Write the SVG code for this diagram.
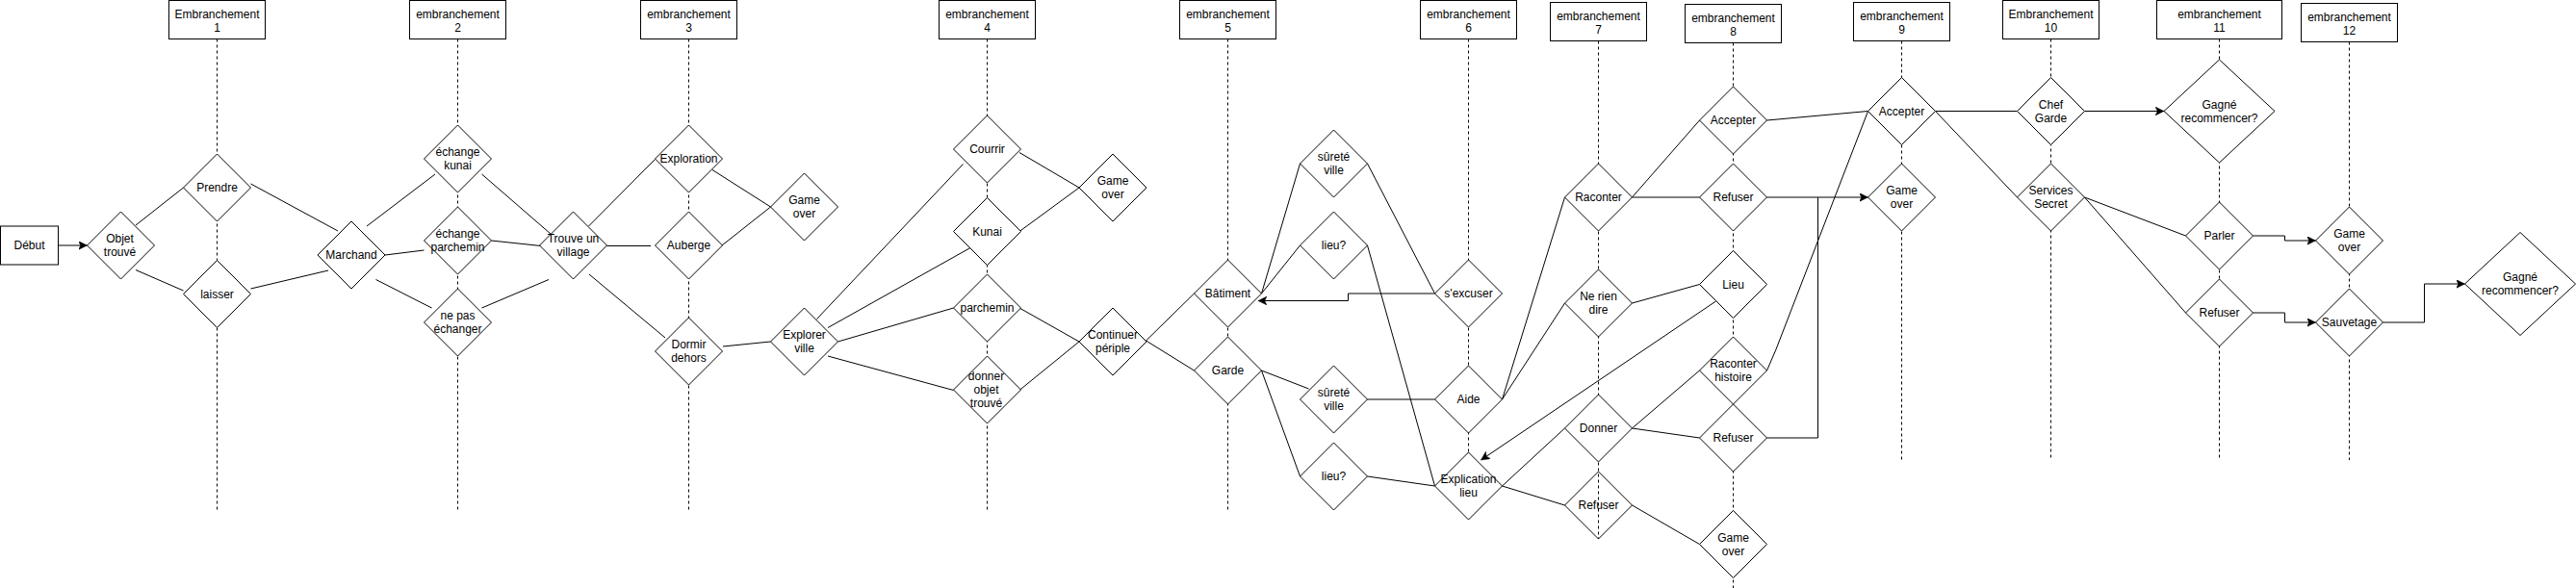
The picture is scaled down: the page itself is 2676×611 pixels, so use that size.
<svg xmlns="http://www.w3.org/2000/svg" xmlns:xlink="http://www.w3.org/1999/xlink" width="2676" height="611" viewBox="0 0 2676 611">
<style>
.box{fill:#fff;stroke:#000;stroke-width:1}
.dia{fill:#fff;stroke:#000;stroke-width:1}
.hollow{fill:none;stroke:#000;stroke-width:1}
.ln{fill:none;stroke:#000;stroke-width:1}
.ar{fill:none;stroke:#000;stroke-width:1;marker-end:url(#arrow)}
.dash{fill:none;stroke:#000;stroke-width:1;stroke-dasharray:3 3}
text{font-family:"Liberation Sans",Arial,Helvetica,sans-serif;font-size:12px;fill:#000;text-anchor:middle}
</style>
<defs>
<path id="d" d="M0,-35 L35,0 L0,35 L-35,0 Z"/>
<marker id="arrow" viewBox="0 0 10 10" refX="10" refY="5" markerWidth="9" markerHeight="9" markerUnits="userSpaceOnUse" orient="auto">
<path d="M0,0 L10,5 L0,10 L2.5,5 Z" fill="#000" stroke="#000" stroke-width="0.5"/>
</marker>
</defs>
<rect width="2676" height="611" fill="#fff"/>

<g id="lifelines">
<line class="dash" x1="225.5" y1="40.5" x2="225.5" y2="530"/>
<line class="dash" x1="475.5" y1="40.5" x2="475.5" y2="530"/>
<line class="dash" x1="715.5" y1="40.5" x2="715.5" y2="530"/>
<line class="dash" x1="1025.5" y1="40.5" x2="1025.5" y2="530"/>
<line class="dash" x1="1275.5" y1="40.5" x2="1275.5" y2="530"/>
<line class="dash" x1="1525.5" y1="40.5" x2="1525.5" y2="505"/>
<line class="dash" x1="1660.5" y1="42.5" x2="1660.5" y2="560"/>
<line class="dash" x1="1800.5" y1="44.5" x2="1800.5" y2="611"/>
<line class="dash" x1="1975.5" y1="42.5" x2="1975.5" y2="480"/>
<line class="dash" x1="2130.5" y1="40.5" x2="2130.5" y2="478"/>
<line class="dash" x1="2305.5" y1="40.5" x2="2305.5" y2="478"/>
<line class="dash" x1="2440.5" y1="43.5" x2="2440.5" y2="478"/>
</g>

<g id="connectors">
<line class="ar" x1="60.5" y1="255" x2="90.5" y2="255"/>
<line class="ln" x1="141" y1="234" x2="190.5" y2="195"/>
<line class="ln" x1="141" y1="280.5" x2="190.5" y2="302"/>
<line class="ln" x1="260.5" y1="191" x2="351" y2="240"/>
<line class="ln" x1="260.5" y1="300" x2="341" y2="281"/>
<line class="ln" x1="381" y1="235" x2="452" y2="181"/>
<line class="ln" x1="400" y1="265" x2="440.5" y2="260"/>
<line class="ln" x1="390.5" y1="290.5" x2="448.5" y2="320"/>
<line class="ln" x1="500.5" y1="181" x2="572" y2="243"/>
<line class="ln" x1="510.5" y1="250" x2="562" y2="255.5"/>
<line class="ln" x1="500.5" y1="320" x2="570" y2="290.5"/>
<line class="ln" x1="611.5" y1="235" x2="680.5" y2="165.5"/>
<line class="ln" x1="630.5" y1="255.5" x2="676" y2="255.5"/>
<line class="ln" x1="612" y1="285" x2="691" y2="351"/>
<line class="ln" x1="740" y1="176.5" x2="800.5" y2="215"/>
<line class="ln" x1="750" y1="255" x2="800.5" y2="215"/>
<line class="ln" x1="751" y1="360" x2="800.5" y2="355"/>
<line class="ln" x1="848.5" y1="331.5" x2="1000.5" y2="170.5"/>
<line class="ln" x1="860" y1="340.5" x2="1008" y2="257.5"/>
<line class="ln" x1="870.5" y1="355" x2="990.5" y2="320"/>
<line class="ln" x1="860" y1="370" x2="990.5" y2="405.5"/>
<line class="ln" x1="1059" y1="158.5" x2="1121" y2="195"/>
<line class="ln" x1="1059" y1="240.5" x2="1121" y2="195"/>
<line class="ln" x1="1059" y1="320" x2="1121" y2="355"/>
<line class="ln" x1="1059" y1="405.5" x2="1121" y2="355"/>
<line class="ln" x1="1190.5" y1="354" x2="1240.5" y2="305"/>
<line class="ln" x1="1190.5" y1="354" x2="1240.5" y2="385"/>
<line class="ln" x1="1310.5" y1="305" x2="1350.5" y2="170"/>
<line class="ln" x1="1310.5" y1="305" x2="1350.5" y2="255"/>
<line class="ln" x1="1420.5" y1="170" x2="1490.5" y2="305"/>
<line class="ln" x1="1420.5" y1="255" x2="1490.5" y2="505"/>
<polyline class="ar" points="1490.5,305 1400.5,305 1400.5,312.5 1307,312.5"/>
<line class="ln" x1="1310.5" y1="385" x2="1359.5" y2="404"/>
<line class="ln" x1="1310.5" y1="385" x2="1350.5" y2="495"/>
<line class="ln" x1="1420.5" y1="415" x2="1490.5" y2="415"/>
<line class="ln" x1="1420.5" y1="495" x2="1490.5" y2="505"/>
<line class="ln" x1="1560.5" y1="415" x2="1625.5" y2="205"/>
<line class="ln" x1="1560.5" y1="415" x2="1625.5" y2="315"/>
<line class="ar" x1="1782.5" y1="313" x2="1538.5" y2="478"/>
<line class="ln" x1="1560.5" y1="505" x2="1625.5" y2="445"/>
<line class="ln" x1="1560.5" y1="505" x2="1625.5" y2="525"/>
<line class="ln" x1="1695.5" y1="205" x2="1765.5" y2="125"/>
<line class="ln" x1="1695.5" y1="205" x2="1765.5" y2="205"/>
<line class="ln" x1="1695.5" y1="315" x2="1765.5" y2="295.5"/>
<line class="ln" x1="1695.5" y1="445" x2="1765.5" y2="385"/>
<line class="ln" x1="1695.5" y1="445" x2="1765.5" y2="455"/>
<line class="ln" x1="1695.5" y1="525" x2="1765.5" y2="565.5"/>
<line class="ln" x1="1835.5" y1="125" x2="1940.5" y2="115.5"/>
<line class="ar" x1="1835.5" y1="205" x2="1940.5" y2="205"/>
<polyline class="ln" points="1835.5,455 1888.5,455 1888.5,205"/>
<polyline class="ln" points="1835.5,385 1845,363 1940.5,115.5"/>
<line class="ln" x1="2010.5" y1="115.5" x2="2095.5" y2="115.5"/>
<line class="ln" x1="2010.5" y1="115.5" x2="2095.5" y2="205"/>
<line class="ar" x1="2165.5" y1="115.5" x2="2248" y2="115.5"/>
<line class="ln" x1="2165.5" y1="205" x2="2270.5" y2="245"/>
<line class="ln" x1="2165.5" y1="205" x2="2270.5" y2="325"/>
<polyline class="ar" points="2340.5,245 2373.5,245 2373.5,250 2405.5,250"/>
<polyline class="ar" points="2340.5,325 2373.5,325 2373.5,335 2405.5,335"/>
<polyline class="ar" points="2475.5,335 2518.5,335 2518.5,295 2560.5,295"/>
</g>

<g id="headers">
<g id="emb1"><rect class="box" x="175.5" y="0.5" width="100" height="40"/><text x="225.5" y="18.5">Embranchement<tspan x="225.5" dy="14">1</tspan></text></g>
<g id="emb2"><rect class="box" x="425.5" y="0.5" width="100" height="40"/><text x="475.5" y="18.5">embranchement<tspan x="475.5" dy="14">2</tspan></text></g>
<g id="emb3"><rect class="box" x="665.5" y="0.5" width="100" height="40"/><text x="715.5" y="18.5">embranchement<tspan x="715.5" dy="14">3</tspan></text></g>
<g id="emb4"><rect class="box" x="975.5" y="0.5" width="100" height="40"/><text x="1025.5" y="18.5">embranchement<tspan x="1025.5" dy="14">4</tspan></text></g>
<g id="emb5"><rect class="box" x="1225.5" y="0.5" width="100" height="40"/><text x="1275.5" y="18.5">embranchement<tspan x="1275.5" dy="14">5</tspan></text></g>
<g id="emb6"><rect class="box" x="1475.5" y="0.5" width="100" height="40"/><text x="1525.5" y="18.5">embranchement<tspan x="1525.5" dy="14">6</tspan></text></g>
<g id="emb7"><rect class="box" x="1610.5" y="2.5" width="100" height="40"/><text x="1660.5" y="20.5">embranchement<tspan x="1660.5" dy="14">7</tspan></text></g>
<g id="emb8"><rect class="box" x="1750.5" y="4.5" width="100" height="40"/><text x="1800.5" y="22.5">embranchement<tspan x="1800.5" dy="14">8</tspan></text></g>
<g id="emb9"><rect class="box" x="1925.5" y="2.5" width="100" height="40"/><text x="1975.5" y="20.5">embranchement<tspan x="1975.5" dy="14">9</tspan></text></g>
<g id="emb10"><rect class="box" x="2080.5" y="0.5" width="100" height="40"/><text x="2130.5" y="18.5">Embranchement<tspan x="2130.5" dy="14">10</tspan></text></g>
<g id="emb11"><rect class="box" x="2240.5" y="0.5" width="130" height="40"/><text x="2305.5" y="18.5">embranchement<tspan x="2305.5" dy="14">11</tspan></text></g>
<g id="emb12"><rect class="box" x="2390.5" y="3.5" width="100" height="40"/><text x="2440.5" y="21.5">embranchement<tspan x="2440.5" dy="14">12</tspan></text></g>
</g>

<g id="nodes">
<g id="debut"><rect class="box" x="0.5" y="235" width="60" height="40"/><text x="30.5" y="259">Début</text></g>
<g id="objet-trouve"><use xlink:href="#d" href="#d" class="dia" x="125.5" y="255"/><text x="124.5" y="252">Objet<tspan x="124.5" dy="14">trouvé</tspan></text></g>
<g id="prendre"><use xlink:href="#d" href="#d" class="dia" x="225.5" y="195"/><text x="225.5" y="199">Prendre</text></g>
<g id="laisser"><use xlink:href="#d" href="#d" class="dia" x="225.5" y="305.5"/><text x="225.5" y="309.5">laisser</text></g>
<g id="marchand"><use xlink:href="#d" href="#d" class="dia" x="365" y="265"/><text x="365" y="269">Marchand</text></g>
<g id="echange-kunai"><use xlink:href="#d" href="#d" class="dia" x="475.5" y="165"/><text x="475.5" y="162">échange<tspan x="475.5" dy="14">kunai</tspan></text></g>
<g id="echange-parchemin"><use xlink:href="#d" href="#d" class="dia" x="475.5" y="250"/><text x="475.5" y="247">échange<tspan x="475.5" dy="14">parchemin</tspan></text></g>
<g id="ne-pas-echanger"><use xlink:href="#d" href="#d" class="dia" x="475.5" y="335"/><text x="475.5" y="332">ne pas<tspan x="475.5" dy="14">échanger</tspan></text></g>
<g id="trouve-village"><use xlink:href="#d" href="#d" class="dia" x="595.5" y="255"/><text x="595.5" y="252">Trouve un<tspan x="595.5" dy="14">village</tspan></text></g>
<g id="exploration"><use xlink:href="#d" href="#d" class="dia" x="715.5" y="165"/><text x="715.5" y="169">Exploration</text></g>
<g id="auberge"><use xlink:href="#d" href="#d" class="dia" x="715.5" y="255"/><text x="715.5" y="259">Auberge</text></g>
<g id="dormir-dehors"><use xlink:href="#d" href="#d" class="dia" x="715.5" y="365"/><text x="715.5" y="362">Dormir<tspan x="715.5" dy="14">dehors</tspan></text></g>
<g id="game-over-3"><use xlink:href="#d" href="#d" class="dia" x="835.5" y="215"/><text x="835.5" y="212">Game<tspan x="835.5" dy="14">over</tspan></text></g>
<g id="explorer-ville"><use xlink:href="#d" href="#d" class="dia" x="835.5" y="355"/><text x="835.5" y="352">Explorer<tspan x="835.5" dy="14">ville</tspan></text></g>
<g id="courrir"><use xlink:href="#d" href="#d" class="dia" x="1025.5" y="155"/><text x="1025.5" y="159">Courrir</text></g>
<g id="kunai"><use xlink:href="#d" href="#d" class="dia" x="1025.5" y="240.5"/><text x="1025.5" y="244.5">Kunai</text></g>
<g id="parchemin"><use xlink:href="#d" href="#d" class="dia" x="1025.5" y="320"/><text x="1025.5" y="324">parchemin</text></g>
<g id="donner-objet"><use xlink:href="#d" href="#d" class="dia" x="1025.5" y="405"/><text x="1024.5" y="395">donner<tspan x="1024.5" dy="14">objet</tspan><tspan x="1024.5" dy="14">trouvé</tspan></text></g>
<g id="game-over-4"><use xlink:href="#d" href="#d" class="dia" x="1156" y="195"/><text x="1156" y="192">Game<tspan x="1156" dy="14">over</tspan></text></g>
<g id="continuer-periple"><use xlink:href="#d" href="#d" class="dia" x="1156" y="355"/><text x="1156" y="352">Continuer<tspan x="1156" dy="14">périple</tspan></text></g>
<g id="batiment"><use xlink:href="#d" href="#d" class="dia" x="1275.5" y="305"/><text x="1275.5" y="309">Bâtiment</text></g>
<g id="garde"><use xlink:href="#d" href="#d" class="dia" x="1275.5" y="385"/><text x="1275.5" y="389">Garde</text></g>
<g id="surete-ville-1"><use xlink:href="#d" href="#d" class="dia" x="1385.5" y="170"/><text x="1385.5" y="167">sûreté<tspan x="1385.5" dy="14">ville</tspan></text></g>
<g id="lieu-1"><use xlink:href="#d" href="#d" class="dia" x="1385.5" y="255"/><text x="1385.5" y="259">lieu?</text></g>
<g id="surete-ville-2"><use xlink:href="#d" href="#d" class="dia" x="1385.5" y="415"/><text x="1385.5" y="412">sûreté<tspan x="1385.5" dy="14">ville</tspan></text></g>
<g id="lieu-2"><use xlink:href="#d" href="#d" class="dia" x="1385.5" y="495"/><text x="1385.5" y="499">lieu?</text></g>
<g id="s-excuser"><use xlink:href="#d" href="#d" class="dia" x="1525.5" y="305"/><text x="1525.5" y="309">s'excuser</text></g>
<g id="aide"><use xlink:href="#d" href="#d" class="dia" x="1525.5" y="415"/><text x="1525.5" y="419">Aide</text></g>
<g id="explication-lieu"><use xlink:href="#d" href="#d" class="dia" x="1525.5" y="505"/><text x="1525.5" y="502">Explication<tspan x="1525.5" dy="14">lieu</tspan></text></g>
<g id="raconter"><use xlink:href="#d" href="#d" class="dia" x="1660.5" y="205"/><text x="1660.5" y="209">Raconter</text></g>
<g id="ne-rien-dire"><use xlink:href="#d" href="#d" class="dia" x="1660.5" y="315"/><text x="1660.5" y="312">Ne rien<tspan x="1660.5" dy="14">dire</tspan></text></g>
<g id="donner"><use xlink:href="#d" href="#d" class="dia" x="1660.5" y="445"/><text x="1660.5" y="449">Donner</text></g>
<g id="refuser-7"><use xlink:href="#d" href="#d" class="hollow" x="1660.5" y="525"/><text x="1660.5" y="529">Refuser</text></g>
<g id="accepter-8"><use xlink:href="#d" href="#d" class="dia" x="1800.5" y="125"/><text x="1800.5" y="129">Accepter</text></g>
<g id="refuser-8a"><use xlink:href="#d" href="#d" class="dia" x="1800.5" y="205"/><text x="1800.5" y="209">Refuser</text></g>
<g id="lieu-8"><use xlink:href="#d" href="#d" class="dia" x="1800.5" y="295.5"/><text x="1800.5" y="299.5">Lieu</text></g>
<g id="raconter-histoire"><use xlink:href="#d" href="#d" class="dia" x="1800.5" y="385"/><text x="1800.5" y="382">Raconter<tspan x="1800.5" dy="14">histoire</tspan></text></g>
<g id="refuser-8b"><use xlink:href="#d" href="#d" class="dia" x="1800.5" y="455"/><text x="1800.5" y="459">Refuser</text></g>
<g id="game-over-8"><use xlink:href="#d" href="#d" class="dia" x="1800.5" y="565.5"/><text x="1800.5" y="562.5">Game<tspan x="1800.5" dy="14">over</tspan></text></g>
<g id="accepter-9"><use xlink:href="#d" href="#d" class="dia" x="1975.5" y="115.5"/><text x="1975.5" y="119.5">Accepter</text></g>
<g id="game-over-9"><use xlink:href="#d" href="#d" class="dia" x="1975.5" y="205"/><text x="1975.5" y="202">Game<tspan x="1975.5" dy="14">over</tspan></text></g>
<g id="chef-garde"><use xlink:href="#d" href="#d" class="dia" x="2130.5" y="115.5"/><text x="2130.5" y="112.5">Chef<tspan x="2130.5" dy="14">Garde</tspan></text></g>
<g id="services-secret"><use xlink:href="#d" href="#d" class="dia" x="2130.5" y="205"/><text x="2130.5" y="202">Services<tspan x="2130.5" dy="14">Secret</tspan></text></g>
<g id="gagne-1"><polygon class="dia" points="2305.5,62 2363,115.5 2305.5,169 2248,115.5"/><text x="2305.5" y="112.5">Gagné<tspan x="2305.5" dy="14">recommencer?</tspan></text></g>
<g id="parler"><use xlink:href="#d" href="#d" class="dia" x="2305.5" y="245"/><text x="2305.5" y="249">Parler</text></g>
<g id="refuser-11"><use xlink:href="#d" href="#d" class="dia" x="2305.5" y="325"/><text x="2305.5" y="329">Refuser</text></g>
<g id="game-over-12"><use xlink:href="#d" href="#d" class="dia" x="2440.5" y="250"/><text x="2440.5" y="247">Game<tspan x="2440.5" dy="14">over</tspan></text></g>
<g id="sauvetage"><use xlink:href="#d" href="#d" class="dia" x="2440.5" y="335"/><text x="2440.5" y="339">Sauvetage</text></g>
<g id="gagne-2"><polygon class="dia" points="2618,241.5 2675.5,295 2618,348.5 2560.5,295"/><text x="2618" y="292">Gagné<tspan x="2618" dy="14">recommencer?</tspan></text></g>
</g>
</svg>
